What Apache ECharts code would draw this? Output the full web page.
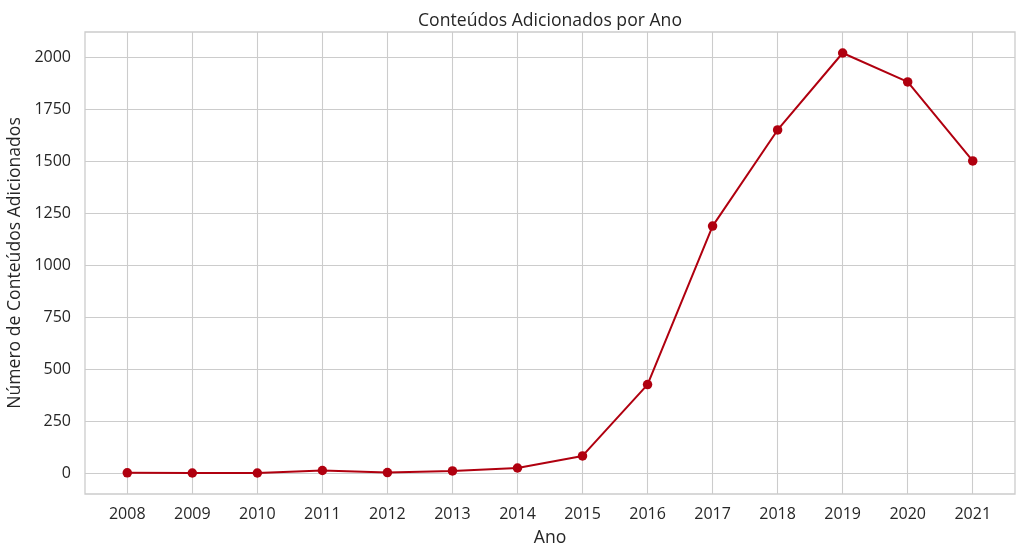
<!DOCTYPE html>
<html>
<head>
<meta charset="utf-8">
<script src="https://cdn.jsdelivr.net/npm/echarts@6/dist/echarts.min.js"></script>
<style>html,body{margin:0;padding:0;background:#fff}#c{width:1025px;height:556px}</style>
</head>
<body>
<div id="c"></div>
<script>
const years = [2008, 2009, 2010, 2011, 2012, 2013, 2014, 2015, 2016, 2017, 2018, 2019, 2020, 2021];
const counts = [1, 0, 0, 12, 2, 10, 24, 82, 425, 1187, 1649, 2019, 1880, 1500];
const yTicks = [0, 250, 500, 750, 1000, 1250, 1500, 1750, 2000];
const titleText = 'Conteúdos Adicionados por Ano';
const xName = 'Ano';
const yName = 'Número de Conteúdos Adicionados';

const font = 'Open Sans';
const txt = '#262626';
const gridCol = '#cccccc';
const lineCol = '#b0000f';

const chart = echarts.init(document.getElementById('c'), null, {renderer: 'canvas'});
chart.setOption({
  animation: false,
  backgroundColor: '#ffffff',
  title: {
    text: titleText, left: 545, top: 7, textAlign: 'center',
    textStyle: {fontFamily: font, fontSize: 17.6, fontWeight: 'normal', color: txt}
  },
  grid: {
    left: 85, right: 10, top: 32, bottom: 62, show: true, outerBoundsMode: 'none',
    borderColor: gridCol, borderWidth: 1.3, backgroundColor: 'transparent'
  },
  xAxis: {
    type: 'value', min: 2007.35, max: 2021.65,
    name: xName, nameLocation: 'middle', nameGap: 35,
    nameTextStyle: {fontFamily: font, fontSize: 17.6, color: txt},
    axisLine: {show: false},
    axisTick: {show: false, customValues: years},
    axisLabel: {customValues: years, fontFamily: font, fontSize: 16, color: txt, margin: 12, formatter: v => String(Math.round(v))},
    splitLine: {show: true, lineStyle: {color: gridCol, width: 1.1}}
  },
  yAxis: {
    type: 'value', min: -101, max: 2120,
    name: yName, nameLocation: 'middle', nameGap: 56,
    nameTextStyle: {fontFamily: font, fontSize: 17.6, color: txt},
    axisLine: {show: false},
    axisTick: {show: false, customValues: yTicks},
    axisLabel: {customValues: yTicks, fontFamily: font, fontSize: 16, color: txt, margin: 14, formatter: v => String(Math.round(v))},
    splitLine: {show: true, lineStyle: {color: gridCol, width: 1.1}}
  },
  series: [{
    type: 'line',
    data: years.map((y, i) => [y, counts[i]]),
    symbol: 'circle', symbolSize: 9.5,
    lineStyle: {color: lineCol, width: 2},
    itemStyle: {color: lineCol},
    z: 3
  }]
});
</script>
</body>
</html>
